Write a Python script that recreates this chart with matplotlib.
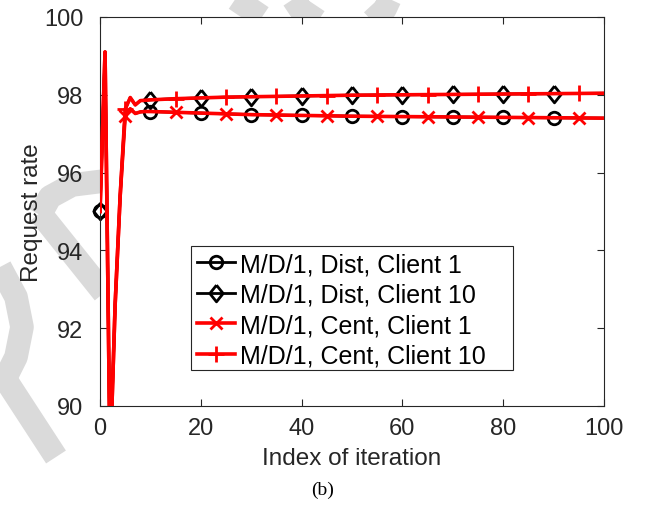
import matplotlib
matplotlib.use("Agg")
import matplotlib.pyplot as plt
import numpy as np
from matplotlib.legend_handler import HandlerTuple
from matplotlib.patches import Rectangle

plt.rcParams['font.family'] = ['Liberation Sans', 'DejaVu Sans']

# Iteration index (dense at the start, every 5 afterwards)
iters = [0, 1, 2, 3, 4, 5, 6, 7, 8, 9, 10, 15, 20, 25, 30, 35, 40, 45, 50,
         55, 60, 65, 70, 75, 80, 85, 90, 95, 100]

dist_client1 = [95.0, 99.1, 88.5, 92.6, 95.4, 97.46, 97.64, 97.52, 97.56, 97.57,
                97.57, 97.55, 97.53, 97.51, 97.49, 97.48, 97.47, 97.46, 97.45,
                97.445, 97.44, 97.435, 97.43, 97.425, 97.42, 97.415, 97.41,
                97.405, 97.40]
dist_client10 = [95.0, 99.1, 88.5, 92.6, 95.4, 97.63, 97.93, 97.74, 97.85, 97.86,
                 97.87, 97.90, 97.92, 97.94, 97.95, 97.96, 97.97, 97.98, 97.99,
                 97.995, 98.0, 98.005, 98.01, 98.015, 98.02, 98.025, 98.03,
                 98.035, 98.04]
cent_client1 = list(dist_client1)
cent_client10 = list(dist_client10)

labels = ["M/D/1, Dist, Client 1", "M/D/1, Dist, Client 10",
          "M/D/1, Cent, Client 1", "M/D/1, Cent, Client 10"]

x_ticks = [0, 20, 40, 60, 80, 100]
y_ticks = [90, 92, 94, 96, 98, 100]

W, H = 647, 506
fig = plt.figure(figsize=(W / 100, H / 100), dpi=100)

# light background watermark strokes
bg = fig.add_axes([0, 0, 1, 1], zorder=-5)
bg.set_xlim(0, W)
bg.set_ylim(H, 0)
bg.axis('off')
wm = dict(color='#dadada', lw=17, solid_capstyle='butt')
bg.plot([0, 56], [372, 458], **wm)
bg.plot([228, 262], [-5, 18], **wm)
bg.plot([290, 300, 318], [-5, 10, 22], **wm)
bg.plot([392, 385, 372], [-5, 10, 22], **wm)
bg.plot([0, 16, 22, 16, 0], [268, 298, 328, 358, 390], **wm)
bg.plot([40, 104], [214, 294], **wm)
bg.plot([104, 72, 50, 40], [182, 186, 198, 216], **wm)

ax = fig.add_axes([100 / W, (H - 407) / H, 504 / W, 389 / H])
ax.set_facecolor('white')

xa = np.array(iters)
blk_idx = [i for i, v in enumerate(iters) if v % 10 == 0 and v < 100]
red_idx = [i for i, v in enumerate(iters) if v % 10 == 5]

diamond = [(0, 1), (0.8, 0), (0, -1), (-0.8, 0), (0, 1)]

specs = [
    (dist_client1, 'black', 2.0, 'o', 9, blk_idx, 2),
    (dist_client10, 'black', 2.0, diamond, 12, blk_idx, 2),
    (cent_client1, 'red', 2.6, 'x', 8, red_idx, 3),
    (cent_client10, 'red', 2.6, '+', 12, red_idx, 3),
]

handles = []
for vals, col, lw, mk, ms, idx, z in specs:
    ya = np.array(vals)
    ln, = ax.plot(xa, ya, color=col, lw=lw, zorder=z)
    mh, = ax.plot(xa[idx], ya[idx], ls='none', marker=mk, ms=ms,
                  mec=col, mfc='none', mew=2, zorder=z, clip_on=False)
    handles.append((ln, mh))

ax.set_xlim(0, 100)
ax.set_ylim(90, 100)
ax.set_xticks(x_ticks)
ax.set_yticks(y_ticks)
ax.tick_params(direction='in', length=5, width=0.8, colors='#262626',
               labelsize=17, top=True, right=True)
ax.tick_params(axis='y', pad=12)
ax.tick_params(axis='x', pad=8)
for sp in ax.spines.values():
    sp.set_color('#262626')
    sp.set_linewidth(0.8)

ax.set_xlabel("Index of iteration", fontsize=17.5, color='#262626', labelpad=6)
ax.set_ylabel("Request rate", fontsize=17.5, color='#262626', labelpad=1)

# legend box
x0, x1 = (191 - 100) / 504, (513 - 100) / 504
y0, y1 = (407 - 371) / 389, (407 - 246.5) / 389
ax.add_patch(Rectangle((x0, y0), x1 - x0, y1 - y0, transform=ax.transAxes,
                       facecolor='white', edgecolor='#262626', lw=0.8,
                       zorder=4))
leg = ax.legend(handles, labels, handler_map={tuple: HandlerTuple(ndivide=1)},
                loc='upper left',
                bbox_to_anchor=(x0 + 3 / 504, y1 - 0.003 - 3 / 389),
                fontsize=18, handlelength=1.55, handletextpad=0.2,
                labelspacing=0.26, borderpad=0.1, borderaxespad=0,
                frameon=False)
leg.set_zorder(5)
for t in leg.get_texts():
    t.set_color('black')

fig.text(323 / W, 1 - 490 / H, "(b)", fontsize=14, ha='center', va='center',
         family=['Liberation Serif', 'DejaVu Serif'])

fig.savefig("out.png", dpi=100)
